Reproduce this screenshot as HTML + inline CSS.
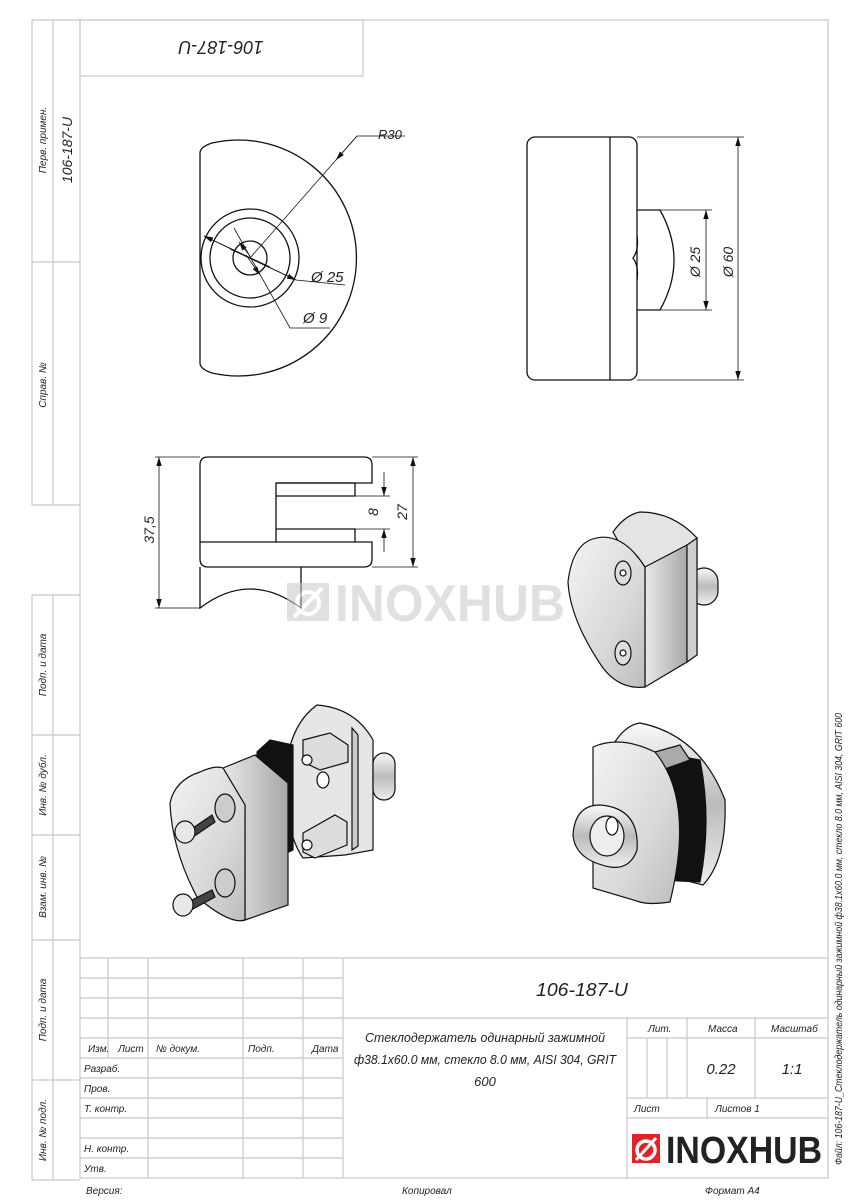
<!DOCTYPE html>
<html><head><meta charset="utf-8"><style>
html,body{margin:0;padding:0;background:#fff;}
svg{display:block;}
text{font-family:"Liberation Sans","DejaVu Sans",sans-serif;font-style:italic;fill:#222;}
.g{stroke:#c8c8c8;stroke-width:1.2;fill:none;}
.k{stroke:#111;stroke-width:1.3;fill:none;}
.t{stroke:#111;stroke-width:0.8;fill:none;}
</style></head><body>
<svg width="848" height="1200" viewBox="0 0 848 1200" xmlns="http://www.w3.org/2000/svg">
<defs>
<marker id="a" viewBox="0 0 10 10" refX="10" refY="5" markerWidth="9" markerHeight="9" orient="auto-start-reverse" markerUnits="userSpaceOnUse"><path d="M0,2 L10,5 L0,8z" fill="#111"/></marker>
<linearGradient id="m1" x1="0" y1="0" x2="1" y2="1"><stop offset="0" stop-color="#f4f4f4"/><stop offset="0.6" stop-color="#d9d9d9"/><stop offset="1" stop-color="#bdbdbd"/></linearGradient>
<linearGradient id="m2" x1="0" y1="0" x2="1" y2="0"><stop offset="0" stop-color="#e8e8e8"/><stop offset="1" stop-color="#a8a8a8"/></linearGradient>
<linearGradient id="m3" x1="0" y1="0" x2="0" y2="1"><stop offset="0" stop-color="#fafafa"/><stop offset="0.5" stop-color="#bbb"/><stop offset="1" stop-color="#eee"/></linearGradient>
</defs>

<!-- frame -->
<rect x="80" y="20" width="748" height="1158" class="g"/>
<rect x="80" y="20" width="283" height="56" class="g"/>
<text x="221" y="55" font-size="18" text-anchor="middle" transform="rotate(180 221 48)" textLength="85" lengthAdjust="spacingAndGlyphs">106-187-U</text>
<!-- left strip -->
<path class="g" d="M32,20 V505 H80 M53,20 V505 M32,262 H80 M32,20 H80"/>
<path class="g" d="M32,595 V1180 H80 M53,595 V1180 M32,595 H80 M32,735 H80 M32,835 H80 M32,940 H80 M32,1080 H80"/>
<g font-size="10" text-anchor="middle">
<text transform="translate(46,140) rotate(-90)">Перв. примен.</text>
<text transform="translate(72,150) rotate(-90)" font-size="14">106-187-U</text>
<text transform="translate(46,385) rotate(-90)">Справ. №</text>
<text transform="translate(46,665) rotate(-90)">Подп. и дата</text>
<text transform="translate(46,785) rotate(-90)">Инв. № дубл.</text>
<text transform="translate(46,887) rotate(-90)">Взам. инв. №</text>
<text transform="translate(46,1010) rotate(-90)">Подп. и дата</text>
<text transform="translate(46,1130) rotate(-90)">Инв. № подл.</text>
</g>
<text transform="translate(842,1165) rotate(-90)" font-size="10.5" textLength="452" lengthAdjust="spacingAndGlyphs">Файл: 106-187-U_Стеклодержатель одинарный зажимной ф38.1x60.0 мм, стекло 8.0 мм, AISI 304, GRIT 600</text>

<!-- title block -->
<g class="g">
<path d="M80,958 H828 M80,978 H343 M80,998 H343 M80,1018 H828 M80,1038 H343 M80,1058 H343 M80,1078 H343 M80,1098 H343 M80,1118 H343 M80,1138 H343 M80,1158 H343"/>
<path d="M108,958 V1058 M148,958 V1178 M243,958 V1178 M303,958 V1178 M343,958 V1178"/>
<path d="M627,1018 V1178 M627,1038 H828 M627,1098 H828 M627,1118 H828 M647,1038 V1098 M667,1038 V1098 M687,1018 V1098 M755,1018 V1098 M707,1098 V1118"/>
</g>
<g font-size="10">
<text x="88" y="1052">Изм.</text><text x="118" y="1052">Лист</text><text x="156" y="1052">№ докум.</text><text x="248" y="1052">Подп.</text><text x="312" y="1052">Дата</text>
<text x="84" y="1072">Разраб.</text><text x="84" y="1092">Пров.</text><text x="84" y="1112">Т. контр.</text>
<text x="84" y="1152">Н. контр.</text><text x="84" y="1172">Утв.</text>
<text x="648" y="1032">Лит.</text><text x="708" y="1032">Масса</text><text x="771" y="1032">Масштаб</text>
<text x="634" y="1112">Лист</text><text x="715" y="1112">Листов 1</text>
<text x="86" y="1194">Версия:</text><text x="402" y="1194">Копировал</text><text x="705" y="1194">Формат А4</text>
</g>
<text x="582" y="996" font-size="18" text-anchor="middle" textLength="92" lengthAdjust="spacingAndGlyphs">106-187-U</text>
<g font-size="13" text-anchor="middle">
<text x="485" y="1042" textLength="240" lengthAdjust="spacingAndGlyphs">Стеклодержатель одинарный зажимной</text>
<text x="485" y="1064" textLength="262" lengthAdjust="spacingAndGlyphs">ф38.1x60.0 мм, стекло 8.0 мм, AISI 304, GRIT</text>
<text x="485" y="1086">600</text>
</g>
<text x="721" y="1074" font-size="15" text-anchor="middle">0.22</text>
<text x="792" y="1074" font-size="15" text-anchor="middle">1:1</text>
<!-- logo -->
<rect x="632" y="1134" width="28" height="29" fill="#e32227"/>
<circle cx="646" cy="1150" r="9" fill="none" stroke="#fff" stroke-width="3.5"/>
<path d="M636,1160 L656,1138" stroke="#fff" stroke-width="3"/>
<text x="666" y="1163" font-size="38" font-weight="bold" style="font-style:normal;fill:#222" textLength="156" lengthAdjust="spacingAndGlyphs">INOXHUB</text>

<!-- front view -->
<path class="k" d="M200,153 Q200,147 212,143 A118,118 0 1 1 212,373 Q200,369 200,363 Z"/>
<circle cx="250" cy="258" r="49" class="k"/>
<circle cx="250" cy="258" r="40" class="k"/>
<circle cx="250" cy="258" r="17" class="k"/>
<path class="t" d="M250,258 L357,136 L405,136"/>
<line x1="357" y1="136" x2="336" y2="160" class="t" marker-end="url(#a)"/>
<text x="378" y="139" font-size="13">R30</text>
<path class="t" d="M204,236 L296,280 L345,285"/>
<line x1="270" y1="267" x2="204" y2="236" class="t" marker-end="url(#a)"/>
<line x1="230" y1="249" x2="296" y2="280" class="t" marker-end="url(#a)"/>
<text x="311" y="282" font-size="15">Ø 25</text>
<path class="t" d="M234,228 L290,328 L330,328"/>
<line x1="250" y1="256" x2="239" y2="242" class="t" marker-end="url(#a)"/>
<line x1="246" y1="255" x2="260" y2="275" class="t" marker-end="url(#a)"/>
<text x="303" y="323" font-size="15">Ø 9</text>

<!-- right view -->
<rect x="527" y="137" width="110" height="243" rx="8" class="k"/>
<line x1="610" y1="137" x2="610" y2="380" class="k"/>
<path class="k" d="M637,210 H660 Q688,260 660,310 H637"/>
<path class="k" d="M637,236 Q639,250 633,258 Q639,266 637,280"/>
<path class="t" d="M660,210 H712 M660,310 H712 M637,137 H744 M637,380 H744"/>
<line x1="706" y1="260" x2="706" y2="210" class="t" marker-end="url(#a)"/>
<line x1="706" y1="260" x2="706" y2="310" class="t" marker-end="url(#a)"/>
<line x1="738" y1="260" x2="738" y2="137" class="t" marker-end="url(#a)"/>
<line x1="738" y1="260" x2="738" y2="380" class="t" marker-end="url(#a)"/>
<text transform="translate(700,262) rotate(-90)" font-size="14" text-anchor="middle">Ø 25</text>
<text transform="translate(733,262) rotate(-90)" font-size="14" text-anchor="middle">Ø 60</text>

<!-- side view -->
<path class="k" d="M208,457 H364 Q372,457 372,465 V483 H276 V542 H372 V559 Q372,567 364,567 H208 Q200,567 200,559 V465 Q200,457 208,457 Z"/>
<path class="k" d="M200,542 H276 M276,483 H355 V496 H276 M276,529 H355 V542"/>
<path class="k" d="M200,567 V608 Q250,570 301,608 V567"/>
<path class="t" d="M200,457 H155 M200,608 H155 M372,457 H418 M372,567 H418 M355,496 H390 M355,529 H390"/>
<line x1="159" y1="530" x2="159" y2="457" class="t" marker-end="url(#a)"/>
<line x1="159" y1="530" x2="159" y2="608" class="t" marker-end="url(#a)"/>
<line x1="413" y1="510" x2="413" y2="457" class="t" marker-end="url(#a)"/>
<line x1="413" y1="510" x2="413" y2="567" class="t" marker-end="url(#a)"/>
<line x1="384" y1="472" x2="384" y2="496" class="t" marker-end="url(#a)"/>
<line x1="384" y1="552" x2="384" y2="529" class="t" marker-end="url(#a)"/>
<text transform="translate(154,530) rotate(-90)" font-size="14" text-anchor="middle">37,5</text>
<text transform="translate(407,512) rotate(-90)" font-size="14" text-anchor="middle">27</text>
<text transform="translate(378,512) rotate(-90)" font-size="14" text-anchor="middle">8</text>

<!-- watermark -->
<g opacity="0.55">
<rect x="287" y="583" width="42" height="38" fill="#c8c8c8"/>
<circle cx="308" cy="603" r="11" fill="none" stroke="#fff" stroke-width="4"/>
<path d="M294,617 L322,588" stroke="#fff" stroke-width="4"/>
<text x="335" y="621" font-size="52" font-weight="bold" style="font-style:normal;fill:#c8c8c8" textLength="230" lengthAdjust="spacingAndGlyphs">INOXHUB</text>
</g>

<!-- iso view 1 -->
<g stroke="#111" stroke-width="1.2">
<path d="M613,532 Q625,515 640,512 Q673,512 697,538 V655 L687,662 Z" fill="#e4e4e4"/>
<rect x="690" y="568" width="28" height="37" rx="14" fill="url(#m3)"/>
<path d="M645,567 L687,545 V662 L645,687 Z" fill="url(#m2)"/>
<path d="M687,545 L697,538 V655 L687,662 Z" fill="#cfcfcf"/>
<path d="M590,540 Q620,528 645,567 V687 Q620,690 603,668 Q570,620 568,582 Q572,548 590,540 Z" fill="url(#m1)"/>
<ellipse cx="623" cy="573" rx="8" ry="12" fill="#ddd"/>
<ellipse cx="623" cy="653" rx="8" ry="12" fill="#ddd"/>
<circle cx="623" cy="573" r="3" fill="#fff"/><circle cx="623" cy="653" r="3" fill="#fff"/>
</g>

<!-- iso view 3 -->
<g stroke="#111" stroke-width="1.2">
<path d="M613,745 Q625,725 640,723 Q700,735 725,800 Q727,860 703,885 Q680,880 660,870 Z" fill="url(#m3)"/>
<path d="M655,752 L700,760 Q712,820 700,882 L660,880 Z" fill="#111"/>
<path d="M655,752 L680,745 L690,760 L662,770 Z" fill="#aaa"/>
<path d="M593,747 Q620,735 655,752 Q695,800 670,902 Q650,905 640,902 L593,888 Z" fill="url(#m1)"/>
<path d="M573,835 Q575,805 600,805 Q640,808 637,850 Q630,870 610,867 Q575,860 573,835 Z" fill="url(#m3)"/>
<ellipse cx="607" cy="836" rx="17" ry="20" fill="#eee"/>
<ellipse cx="612" cy="826" rx="6" ry="9" fill="#fff"/>
</g>

<!-- iso view 2 -->
<g stroke="#111" stroke-width="1.2">
<path d="M317,705 Q355,708 373,740 V850 L345,855 L303,858 Q290,840 285,800 Q282,730 317,705 Z" fill="#e6e6e6"/>
<rect x="373" y="753" width="22" height="47" rx="11" fill="url(#m3)"/>
<path d="M352,728 V850 L358,846 V735 Z" fill="#ccc"/>
<path d="M303,740 L330,733 L348,745 V762 L320,770 L303,762 Z" fill="#ddd"/>
<circle cx="307" cy="760" r="5" fill="#fff"/>
<ellipse cx="323" cy="780" rx="6" ry="8" fill="#fff"/>
<path d="M303,833 L335,815 L347,822 V845 L315,858 L303,852 Z" fill="#ddd"/>
<circle cx="307" cy="845" r="5" fill="#fff"/>
<path d="M257,752 L270,740 L293,745 V850 L270,860 L257,850 Z" fill="#111"/>
<path d="M223,768 L255,755 L288,783 V905 L245,920 V805 Z" fill="url(#m2)"/>
<path d="M200,772 Q215,765 223,768 L245,805 V920 Q230,925 197,897 Q172,850 170,803 Q175,780 200,772 Z" fill="url(#m1)"/>
<ellipse cx="225" cy="808" rx="10" ry="14" fill="#ccc"/>
<ellipse cx="225" cy="883" rx="10" ry="14" fill="#ccc"/>
<path d="M190,830 L212,815 L215,822 L193,837 Z" fill="#444"/>
<path d="M188,902 L212,890 L215,897 L191,910 Z" fill="#444"/>
<ellipse cx="185" cy="832" rx="10" ry="11" fill="#e8e8e8"/>
<ellipse cx="183" cy="905" rx="10" ry="11" fill="#e8e8e8"/>
</g>
</svg>
</body></html>
